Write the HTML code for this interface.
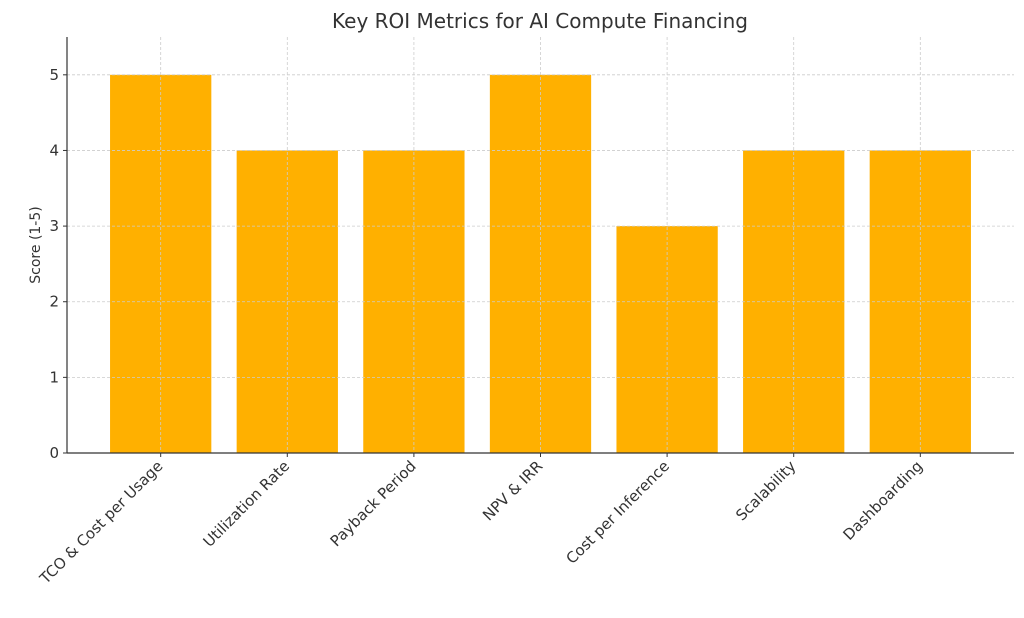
<!DOCTYPE html>
<html><head><meta charset="utf-8"><style>
html,body{margin:0;padding:0;background:#fff;}
svg{display:block;font-family:"DejaVu Sans","Liberation Sans",sans-serif;}
</style></head><body>
<svg id="chart" width="1024" height="618" viewBox="0 0 1024 618">
<text x="540" y="28" text-anchor="middle" font-size="20" fill="#333">Key ROI Metrics for AI Compute Financing</text>
<text transform="translate(40,245) rotate(-90)" text-anchor="middle" font-size="14" fill="#333">Score (1-5)</text>
<g id="bars"></g><g id="grid"></g><g id="axes"></g>
</svg>
<script>
const categories = ["TCO & Cost per Usage","Utilization Rate","Payback Period","NPV & IRR","Cost per Inference","Scalability","Dashboarding"];
const scores = [5,4,4,5,3,4,4];
const yTicks = [0,1,2,3,4,5];
const NS="http://www.w3.org/2000/svg";
const L=67,R=1014,T=37,B=453;
const xMin=-0.74,xMax=6.74,yMax=5.5;
const x=v=>L+(v-xMin)/(xMax-xMin)*(R-L);
const y=v=>B-v/yMax*(B-T);
const bw=0.8*(R-L)/(xMax-xMin);
function mk(tag,attrs,parent){const e=document.createElementNS(NS,tag);for(const k in attrs)e.setAttribute(k,attrs[k]);parent.appendChild(e);return e;}
const gb=document.getElementById('bars'),gg=document.getElementById('grid'),ga=document.getElementById('axes');
scores.forEach((s,i)=>{
  const r=mk('rect',{x:x(i)-bw/2,y:y(s),width:bw,height:y(0)-y(s),fill:'#FFB000'},gb);
  
  
  const gl=mk('line',{x1:x(i),x2:x(i),y1:T,y2:B,stroke:'#ccc','stroke-dasharray':'3,2','stroke-width':0.8},gg);
  
  
  const tk=mk('line',{x1:x(i),x2:x(i),y1:B,y2:B+4,stroke:'#333'},ga);
  
  
  const t=mk('text',{transform:`translate(${x(i)+3},${B+14}) rotate(-45)`,'text-anchor':'end','font-size':15,fill:'#333'},ga);
  t.textContent=categories[i];
  
  
});
yTicks.forEach(v=>{
  if(v>0){const gl=mk('line',{x1:L,x2:R,y1:y(v),y2:y(v),stroke:'#ccc','stroke-dasharray':'3,2','stroke-width':0.8},gg);
  
  }
  const tk=mk('line',{x1:L-4,x2:L,y1:y(v),y2:y(v),stroke:'#333'},ga);
  
  
  const t=mk('text',{x:L-8,y:y(v)+5,'text-anchor':'end','font-size':15,fill:'#333'},ga);
  t.textContent=v;
  
  
});
const ax=mk('line',{x1:L,x2:L,y1:T,y2:B,stroke:'#333','stroke-width':1.2},ga);


const bx=mk('line',{x1:L,x2:R,y1:B,y2:B,stroke:'#333','stroke-width':1.2},ga);


</script>
</body></html>
